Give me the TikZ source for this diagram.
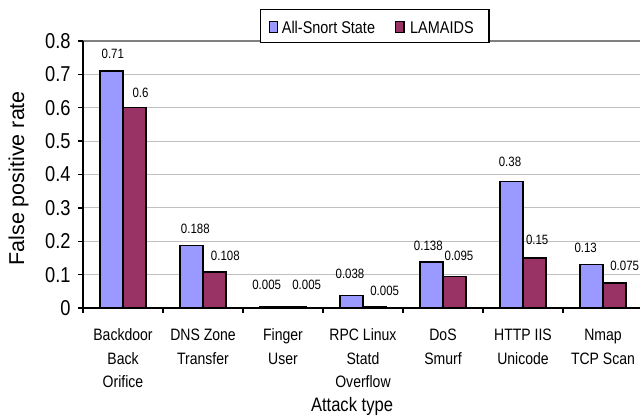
\documentclass[tikz,border=0pt]{standalone}
\usepackage{fontspec}
\setmainfont[FakeStretch=0.85]{Liberation Sans}
\newfontfamily\titlefont{Liberation Sans}
\definecolor{snortblue}{HTML}{9999FF}
\definecolor{lamred}{HTML}{993366}
\definecolor{gridgray}{HTML}{C0C0C0}
\definecolor{framegray}{HTML}{808080}
\begin{document}
\begin{tikzpicture}[x=1pt,y=-1pt,
  barbox/.style={draw=black,line width=1.3pt},
  gridrule/.style={draw=gridgray,line width=1pt},
  axisrule/.style={draw=black,line width=1.3pt},
  vallab/.style={font=\fontsize{13.5}{16}\selectfont,inner sep=0pt},
  ticklab/.style={font=\fontsize{21.5}{25}\selectfont,inner sep=0pt,anchor=east},
  catlab/.style={font=\fontsize{16.5}{20}\selectfont,inner sep=0pt,anchor=base},
  legtext/.style={font=\fontsize{17}{20}\selectfont,inner sep=0pt,anchor=base west}]
\useasboundingbox (0,0) rectangle (640,419);
% value axis: 0 at y=308, 0.8 at y=41
\def\yzero{308}
\def\yunit{333.75}

% gridlines
\foreach \v in {1,...,7}
  \draw[gridrule] (83,{\yzero-\v*\yunit/10}) -- (640,{\yzero-\v*\yunit/10});
\draw[framegray,line width=1.3pt] (83,41) -- (640,41);

% bars: category k centred at 123+80k
\foreach \k/\a/\b in {0/0.71/0.6, 1/0.188/0.108, 2/0.005/0.005, 3/0.038/0.005,
                      4/0.138/0.095, 5/0.38/0.15, 6/0.13/0.075} {
  \pgfmathsetmacro\c{123+80*\k}
  \filldraw[barbox,fill=snortblue] ({\c-22.86},\yzero) rectangle (\c,{\yzero-\a*\yunit});
  \filldraw[barbox,fill=lamred] (\c,\yzero) rectangle ({\c+22.86},{\yzero-\b*\yunit});
}

% axes and tick marks
\draw[axisrule] (83,41) -- (83,\yzero);
\draw[axisrule] (83,\yzero) -- (640,\yzero);
\foreach \v in {0,...,8}
  \draw[axisrule] (78,{\yzero-\v*\yunit/10}) -- (83,{\yzero-\v*\yunit/10});
\foreach \k in {0,...,6}
  \draw[axisrule] ({83+80*\k},\yzero) -- ({83+80*\k},313);

% tick labels
\foreach \v/\t in {0/0,1/0.1,2/0.2,3/0.3,4/0.4,5/0.5,6/0.6,7/0.7,8/0.8}
  \node[ticklab] (tick\v) at (70.7,{\yzero-\v*\yunit/10}) {\t};

% data labels
\foreach \n/\x/\y/\t in {a0/112.8/53.7/0.71, b0/140.5/92.8/0.6,
    a1/195.3/228.7/0.188, b1/225.3/255.7/0.108,
    a2/266.7/285.3/0.005, b2/306.7/285.3/0.005,
    a3/350/274.3/0.038, b3/384.7/291/0.005,
    a4/428.3/245.8/0.138, b4/459/256/0.095,
    a5/510/161.7/0.38, b5/537.2/240/0.15,
    a6/585.7/248/0.13, b6/624.7/265.7/0.075}
  \node[vallab] (val\n) at (\x,\y) {\t};

% category labels, one row of text at a time
\foreach \k/\t in {0/Backdoor,1/DNS Zone,2/Finger,3/RPC Linux,4/DoS,5/HTTP IIS,6/Nmap}
  \node[catlab] (catA\k) at ({123+80*\k},341) {\t};
\foreach \k/\t in {0/Back,1/Transfer,2/User,3/Statd,4/Smurf,5/Unicode,6/TCP Scan}
  \node[catlab] (catB\k) at ({123+80*\k},364.3) {\t};
\foreach \k/\t in {0/Orifice,3/Overflow}
  \node[catlab] (catC\k) at ({123+80*\k},387.5) {\t};

% axis titles
\node[font=\fontsize{19.5}{23}\selectfont,inner sep=0pt,anchor=base] (xtitle) at (352,411.5) {Attack type};
\node[font=\titlefont\fontsize{21.5}{25}\selectfont,inner sep=0pt,anchor=base,rotate=90] (ytitle) at (24,178.3) {False positive rate};

% legend
\filldraw[draw=black,fill=white,line width=1.5pt] (260.3,9.3) rectangle (489,42.7);
\filldraw[draw=black,fill=snortblue,line width=1.2pt] (269.3,21.7) rectangle (277.7,32.7);
\node[legtext] (legA) at (281.7,33.3) {All-Snort State};
\filldraw[draw=black,fill=lamred,line width=1.2pt] (395.3,21.7) rectangle (404,32.7);
\node[legtext] (legB) at (410,33.3) {LAMAIDS};
\end{tikzpicture}
\end{document}
